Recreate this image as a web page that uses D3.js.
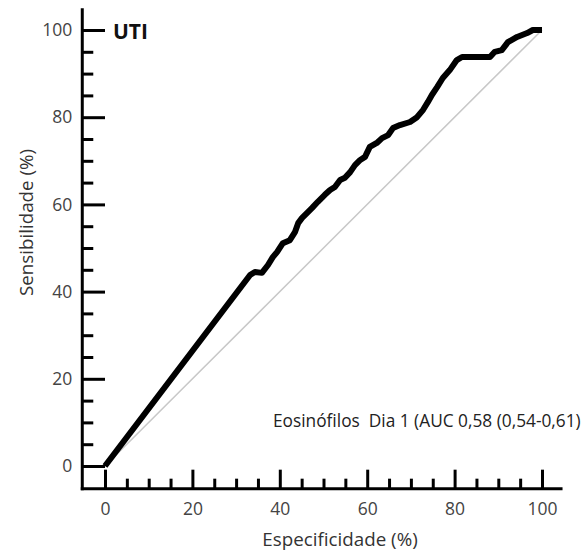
<!DOCTYPE html>
<html>
<head>
<meta charset="utf-8">
<script src="https://cdn.jsdelivr.net/npm/d3@7"></script>
<style>
  html, body { margin: 0; padding: 0; background: #fff; }
  svg { display: block; }
  text { font-family: "Open Sans", "Noto Sans", sans-serif; }
</style>
</head>
<body>
<div id="chart"></div>
<script>
// ---- data ----
const specificity = [0, 33.2, 34.3, 35.9, 37.3, 38.4, 39.4, 40.7, 42.3, 43.5, 44.2, 45.1, 46.2, 47.4, 48.7, 50.3, 51.5, 52.6, 53.8, 54.9, 56.1, 57.2, 58.4, 59.5, 60.6, 62.2, 63.4, 64.8, 65.9, 67.5, 69.8, 71.4, 72.8, 73.9, 74.8, 76.0, 77.3, 78.9, 80.5, 81.7, 84.2, 88.1, 89.2, 90.8, 92.2, 94.3, 96.6, 97.9, 100];
const sensitivity = [0, 43.8, 44.5, 44.3, 46.1, 47.9, 49.1, 51.1, 51.8, 53.7, 55.7, 56.9, 58.0, 59.2, 60.6, 62.2, 63.3, 64.0, 65.6, 66.1, 67.4, 69.0, 70.2, 70.9, 73.2, 74.1, 75.2, 75.9, 77.5, 78.2, 78.9, 80.0, 81.7, 83.5, 85.1, 86.9, 89.0, 90.8, 93.1, 93.8, 93.8, 93.8, 95.0, 95.4, 97.2, 98.4, 99.3, 100, 100];
const reference = [[0, 0], [100, 100]];
const majorTicks = [0, 20, 40, 60, 80, 100];
const minorTicks = [5, 10, 15, 25, 30, 35, 45, 50, 55, 65, 70, 75, 85, 90, 95];
const axisExtent = [-5.2, 105];
const xTitle = "Especificidade (%)";
const yTitle = "Sensibilidade (%)";
const panelLabel = "UTI";
const legendLabel = "Eosinófilos  Dia 1 (AUC 0,58 (0,54-0,61)";

// ---- layout ----
const W = 586, H = 553;
const svg = d3.select("#chart").append("svg").attr("width", W).attr("height", H);

const x = d3.scaleLinear().domain([0, 100]).range([105, 542]);
const y = d3.scaleLinear().domain([0, 100]).range([466, 30]);

// diagonal reference
svg.append("path")
  .datum(reference)
  .attr("d", d3.line().x(d => x(d[0])).y(d => y(d[1])))
  .attr("fill", "none").attr("stroke", "#c8c8c8").attr("stroke-width", 1.5);

// ROC curve
const pts = specificity.map((v, i) => [v, sensitivity[i]]);
svg.append("path")
  .datum(pts)
  .attr("d", d3.line().x(d => x(d[0])).y(d => y(d[1])))
  .attr("fill", "none").attr("stroke", "#000").attr("stroke-width", 6)
  .attr("stroke-linejoin", "round").attr("stroke-linecap", "butt");

const x0 = x(axisExtent[0]);   // position of the y axis line
const y0 = y(axisExtent[0]);   // position of the x axis line

// y axis
const gy = svg.append("g").attr("transform", `translate(${x0},0)`);
gy.call(d3.axisLeft(y).tickValues(majorTicks).tickSizeInner(-(x(0) - x0)).tickSizeOuter(0).tickPadding(10));
const gyMinor = svg.append("g").attr("transform", `translate(${x0},0)`);
gyMinor.call(d3.axisLeft(y).tickValues(minorTicks).tickSizeInner(-11).tickSizeOuter(0).tickFormat(""));

// x axis
const gx = svg.append("g").attr("transform", `translate(0,${y0})`);
gx.call(d3.axisBottom(x).tickValues(majorTicks).tickSizeInner(-19).tickSizeOuter(0).tickPadding(14));
const gxMinor = svg.append("g").attr("transform", `translate(0,${y0})`);
gxMinor.call(d3.axisBottom(x).tickValues(minorTicks).tickSizeInner(-10).tickSizeOuter(0).tickFormat(""));

svg.selectAll(".domain").remove();
svg.selectAll(".tick line").attr("stroke", "#000").attr("stroke-width", 3);
svg.selectAll(".tick text").attr("font-size", 17.5).attr("fill", "#444")
  .attr("font-family", "'Open Sans', sans-serif");

// axis lines
svg.append("line").attr("x1", x0).attr("x2", x0).attr("y1", y(axisExtent[1])).attr("y2", y0 + 1.5)
  .attr("stroke", "#000").attr("stroke-width", 3);
svg.append("line").attr("x1", x0 - 1.5).attr("x2", x(104.7)).attr("y1", y0).attr("y2", y0)
  .attr("stroke", "#000").attr("stroke-width", 3);

// titles
svg.append("text").attr("x", 340).attr("y", 546).attr("text-anchor", "middle")
  .attr("font-size", 18.8).attr("fill", "#333").text(xTitle);
svg.append("text").attr("transform", "translate(33,222.5) rotate(-90)").attr("text-anchor", "middle")
  .attr("font-size", 18.8).attr("fill", "#333").text(yTitle);

svg.append("text").attr("x", 113).attr("y", 39).attr("font-size", 21).attr("font-weight", "bold")
  .attr("fill", "#111").text(panelLabel);

svg.append("text").attr("x", 273).attr("y", 427).attr("font-size", 17.3).attr("fill", "#222")
  .style("white-space", "pre")
  .text(legendLabel);
</script>
</body>
</html>
